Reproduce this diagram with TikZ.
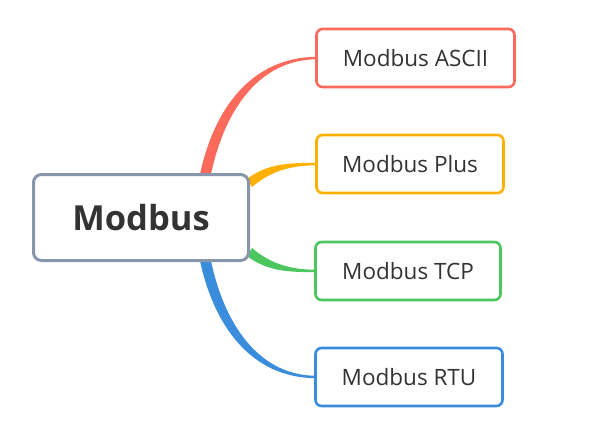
\documentclass[tikz,border=0pt]{standalone}
\usepackage{fontspec}
\setmainfont{Open Sans}
\usetikzlibrary{calc,backgrounds}
\definecolor{cred}{HTML}{FB6A5B}
\definecolor{corange}{HTML}{FFB000}
\definecolor{cgreen}{HTML}{4CC65E}
\definecolor{cblue}{HTML}{3A8DDA}
\definecolor{cgray}{HTML}{8796AB}
\definecolor{ctext}{HTML}{333333}
\begin{document}
\begin{tikzpicture}[x=1pt,y=-1pt,
  root/.style={draw=cgray, line width=3pt, rounded corners=8pt, fill=white,
    minimum width=215pt, minimum height=86pt, inner sep=0pt,
    font=\fontsize{34.5}{40}\selectfont\bfseries, text=ctext},
  child/.style={line width=2.6pt, rounded corners=6pt, fill=white,
    minimum height=58pt, inner sep=0pt,
    font=\fontsize{22.5}{26}\selectfont, text=ctext}]
\useasboundingbox (0,0) rectangle (591,424);
% nodes
\node[root] (root) at (141,217.5) {Modbus};
\node[child, draw=cred, minimum width=198pt] (ascii) at (415.5,58) {Modbus ASCII};
\node[child, draw=corange, minimum width=187pt] (plus) at (410,164) {Modbus Plus};
\node[child, draw=cgreen, minimum width=185pt] (tcp) at (408,271) {Modbus TCP};
\node[child, draw=cblue, minimum width=187pt] (rtu) at (409,377) {Modbus RTU};
% branches (tapered)
\begin{pgfonlayer}{background}
\fill[cred] ($(root.north)+(58,6)$) .. controls (213,108) and (252,57) .. ($(ascii.west)+(2,-1.2)$)
  -- ($(ascii.west)+(2,1.2)$) .. controls (258,59.5) and (223,112) .. ($(root.north)+(69,6)$) -- cycle;
\fill[corange] ($(root.north east)+(-3,6)$) .. controls (268,163) and (290,163) .. ($(plus.west)+(2,-1.2)$)
  -- ($(plus.west)+(2,1.2)$) .. controls (292,165.5) and (272,170) .. ($(root.north east)+(2,14)$) -- cycle;
\fill[cgreen] ($(root.south east)+(-3,-6)$) .. controls (268,272) and (290,272) .. ($(tcp.west)+(2,1.2)$)
  -- ($(tcp.west)+(2,-1.2)$) .. controls (292,269.5) and (272,265) .. ($(root.south east)+(2,-14)$) -- cycle;
\fill[cblue] ($(root.south)+(58,-6)$) .. controls (213,327) and (252,378) .. ($(rtu.west)+(2,1.2)$)
  -- ($(rtu.west)+(2,-1.2)$) .. controls (258,375.5) and (223,323) .. ($(root.south)+(69,-6)$) -- cycle;
\end{pgfonlayer}
\end{tikzpicture}
\end{document}
